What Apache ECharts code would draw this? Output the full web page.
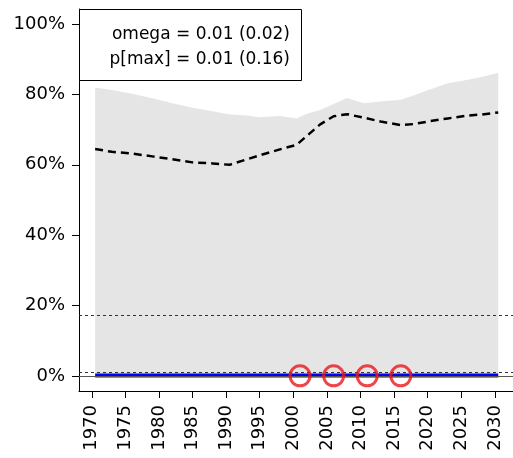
<!DOCTYPE html>
<html><head><meta charset="utf-8">
<script src="https://cdn.jsdelivr.net/npm/echarts@6/dist/echarts.min.js"></script>
<style>html,body{margin:0;padding:0;background:#fff}#c{width:513px;height:458px}</style>
</head><body><div id="c"></div>
<script>
const years  = [1970.5, 1973, 1976, 1979, 1982, 1985, 1988, 1990.5, 1993, 1995, 1998, 2000.5, 2002, 2004, 2006, 2008, 2010.5, 2013, 2016, 2018, 2020, 2023, 2026, 2028, 2030.5];
const upper  = [82.0, 81.3, 80.2, 78.9, 77.5, 76.2, 75.2, 74.3, 74.0, 73.5, 73.9, 73.2, 74.5, 75.6, 77.3, 79.0, 77.5, 78.0, 78.5, 79.8, 81.2, 83.2, 84.2, 85.0, 86.2];
const lower  = [0.5, 0.5, 0.5, 0.5, 0.5, 0.5, 0.5, 0.5, 0.5, 0.5, 0.5, 0.5, 0.5, 0.5, 0.5, 0.5, 0.5, 0.5, 0.5, 0.5, 0.5, 0.5, 0.5, 0.5, 0.5];
const median = [64.5, 63.7, 63.2, 62.4, 61.6, 60.7, 60.4, 60.0, 61.5, 62.7, 64.4, 65.7, 68.2, 71.5, 73.8, 74.4, 73.4, 72.3, 71.3, 71.6, 72.3, 73.2, 74.0, 74.3, 74.9];
const estYears  = [1970.5, 2030.5];
const estValues = [0.1, 0.1];
const obsYears  = [2001, 2006, 2011, 2016];
const obsValues = [0, 0, 0, 0];
const dottedRefs = [17.2, 0.9];
const zeroRef = 0;
const xTicks = [1970, 1975, 1980, 1985, 1990, 1995, 2000, 2005, 2010, 2015, 2020, 2025, 2030];
const yTicks = [0, 20, 40, 60, 80, 100];
const legendLines = ['omega = 0.01 (0.02)', 'p[max] = 0.01 (0.16)'];

const FONT = 'DejaVu Sans';
const pair = (xs, ys) => xs.map((x, i) => [x, ys[i]]);
const bandData = years.map((x, i) => [x, lower[i], upper[i]]);

const chart = echarts.init(document.getElementById('c'), null, {renderer: 'canvas'});
chart.setOption({
  animation: false,
  backgroundColor: '#fff',
  grid: {left: 79, right: 0, top: 9, bottom: 67},
  xAxis: {
    type: 'value', min: 1968.1, max: 2032.7,
    axisLine: {show: true, onZero: false, lineStyle: {color: '#000', width: 1}},
    axisTick: {show: true, length: 7, customValues: xTicks, lineStyle: {color: '#000', width: 1}},
    axisLabel: {customValues: xTicks, rotate: 90, margin: 14, fontSize: 18, fontFamily: FONT, color: '#000',
                formatter: v => String(v)},
    splitLine: {show: false}
  },
  yAxis: {
    type: 'value', min: -4.3, max: 104.3,
    axisLine: {show: true, onZero: false, lineStyle: {color: '#000', width: 1}},
    axisTick: {show: true, length: 7, customValues: yTicks, lineStyle: {color: '#000', width: 1}},
    axisLabel: {customValues: yTicks, margin: 14, fontSize: 18, fontFamily: FONT, color: '#000', formatter: v => v + '%'},
    splitLine: {show: false}
  },
  series: [
    {type: 'custom', data: bandData, z: 1, silent: true, clip: true,
     encode: {x: 0, y: [1, 2]},
     renderItem: function (params, api) {
       if (params.dataIndex !== 0) return null;
       const pts = [];
       for (let i = 0; i < bandData.length; i++) pts.push(api.coord([bandData[i][0], bandData[i][2]]));
       for (let i = bandData.length - 1; i >= 0; i--) pts.push(api.coord([bandData[i][0], bandData[i][1]]));
       return {type: 'polygon', shape: {points: pts}, style: {fill: '#e5e5e5', stroke: null}};
     }},
    {type: 'line', data: [], z: 2, silent: true,
     markLine: {symbol: 'none', silent: true, label: {show: false}, animation: false,
       data: [
         {yAxis: dottedRefs[0], lineStyle: {type: [3, 3], color: '#333', width: 1}},
         {yAxis: dottedRefs[1], lineStyle: {type: [3, 3], color: '#333', width: 1}},
         {yAxis: zeroRef, lineStyle: {type: 'solid', color: '#555', width: 1}}
       ]}},
    {type: 'line', data: pair(years, median), symbol: 'none', z: 3,
     lineStyle: {color: '#000', width: 2.5, type: [8, 5]}},
    {type: 'line', data: pair(estYears, estValues), symbol: 'none', z: 4,
     lineStyle: {color: '#0000ff', width: 4}},
    {type: 'scatter', data: pair(obsYears, obsValues), symbol: 'circle', symbolSize: 20, z: 5,
     itemStyle: {color: 'rgba(0,0,0,0)', borderColor: '#e8161b', borderWidth: 3}}
  ],
  graphic: [
    {type: 'rect', z: 100, shape: {x: 79.5, y: 9.5, width: 222, height: 71},
     style: {fill: '#fff', stroke: '#000', lineWidth: 1}},
    {type: 'text', z: 101, x: 290, y: 35,
     style: {text: legendLines[0], align: 'right', verticalAlign: 'middle', fontSize: 17, fontFamily: FONT, fill: '#000'}},
    {type: 'text', z: 101, x: 290, y: 60,
     style: {text: legendLines[1], align: 'right', verticalAlign: 'middle', fontSize: 17, fontFamily: FONT, fill: '#000'}}
  ]
});
</script></body></html>
